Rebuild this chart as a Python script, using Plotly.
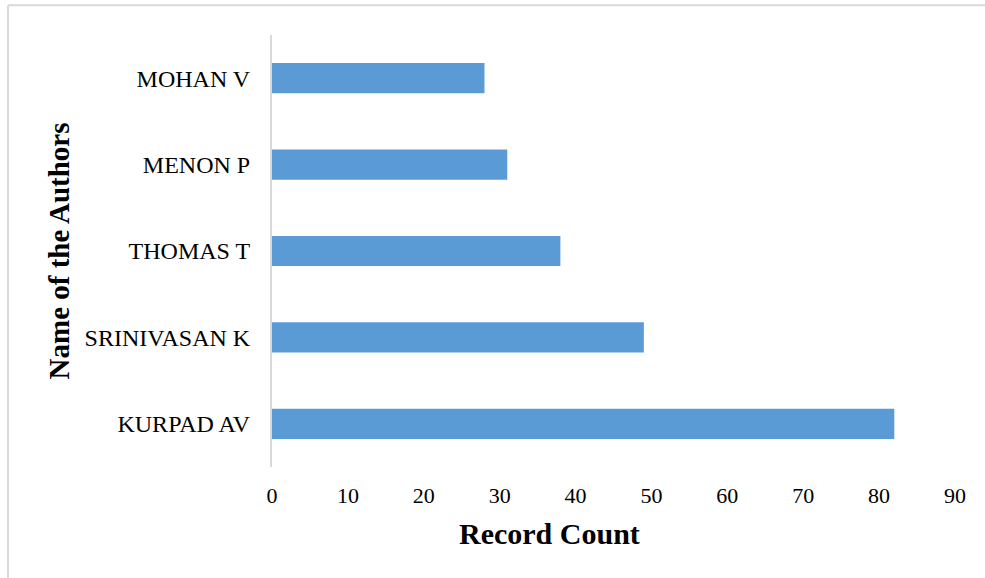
import plotly.graph_objects as go

# Top authors by number of records
authors = ["MOHAN V", "MENON P", "THOMAS T", "SRINIVASAN K", "KURPAD AV"]
record_counts = [28, 31, 38, 49, 82]
x_ticks = [0, 10, 20, 30, 40, 50, 60, 70, 80, 90]

serif = "Liberation Serif, Times New Roman, serif"

fig = go.Figure(
    go.Bar(
        x=record_counts,
        y=authors,
        orientation="h",
        marker=dict(color="#5B9BD5", line=dict(width=0)),
        width=0.35,
    )
)

fig.update_layout(
    width=985,
    height=578,
    margin=dict(l=272, r=30, t=35, b=111),
    paper_bgcolor="white",
    plot_bgcolor="white",
    showlegend=False,
    font=dict(family=serif, color="#000000"),
    xaxis=dict(
        range=[0, 90],
        tickvals=x_ticks,
        ticktext=[str(v) for v in x_ticks],
        showgrid=False,
        zeroline=False,
        showline=False,
        ticks="",
        ticklabelstandoff=13,
        tickfont=dict(family=serif, size=22, color="#000000"),
    ),
    yaxis=dict(
        categoryorder="array",
        categoryarray=authors,
        autorange="reversed",
        showgrid=False,
        zeroline=False,
        showline=True,
        linecolor="#d9d9d9",
        linewidth=2,
        ticks="",
        ticklabelstandoff=15,
        tickfont=dict(family=serif, size=24, color="#000000"),
        title=dict(
            text="<b>Name of the Authors</b>",
            font=dict(family=serif, size=29, color="#000000"),
            standoff=6,
        ),
    ),
    annotations=[
        # x-axis title, set left of the plot centre
        dict(text="<b>Record Count</b>", xref="paper", yref="paper",
             x=0.4056, y=-0.1528, xanchor="center", yanchor="middle",
             showarrow=False,
             font=dict(family=serif, size=30, color="#000000")),
    ],
    shapes=[
        # outer frame: top and left edges
        dict(type="line", xref="paper", yref="paper",
             x0=-0.3865, x1=1.06, y0=1.069, y1=1.069,
             line=dict(color="#d9d9d9", width=2)),
        dict(type="line", xref="paper", yref="paper",
             x0=-0.3865, x1=-0.3865, y0=1.069, y1=-0.3,
             line=dict(color="#d9d9d9", width=2)),
    ],
)

fig.write_html("out.html")
